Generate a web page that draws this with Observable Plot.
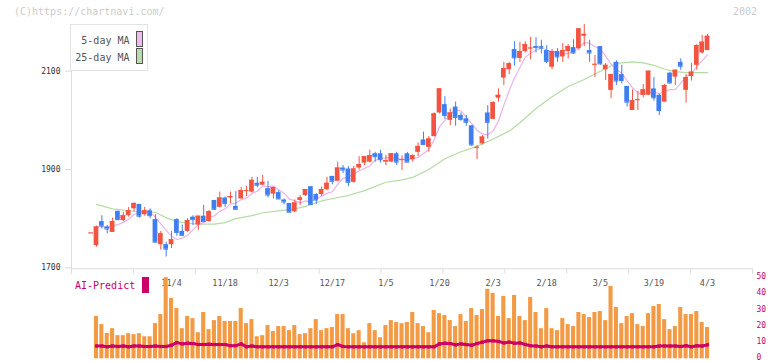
<!DOCTYPE html>
<html><head><meta charset="utf-8">
<script src="https://cdn.jsdelivr.net/npm/d3@7"></script>
<script src="https://cdn.jsdelivr.net/npm/@observablehq/plot@0.6"></script>
<style>
body{margin:0;background:#fff}
#wrap{position:relative;width:772px;height:361px;overflow:hidden;background:#fff;font-family:"DejaVu Sans Mono",monospace}
#wrap svg{position:absolute;left:0;top:0}
.t{position:absolute;white-space:nowrap;font-size:10px;line-height:10px}
</style></head>
<body><div id="wrap"></div>
<script>
// ---- data ----
const candleOpen = [1745,1794,1783,1772,1815,1796,1806,1820,1829,1808,
1816,1798,1747,1747,1747,1798,1774,1774,1803,1787,
1805,1794,1837,1823,1842,1842,1825,1840,1856,1854,
1872,1868,1861,1850,1853,1838,1831,1814,1837,1847,
1865,1849,1849,1859,1886,1876,1903,1901,1874,1903,
1913,1915,1932,1932,1915,1915,1932,1919,1932,1920,
1935,1960,1945,1967,2015,2032,2000,2027,2010,2003,
1989,1944,1952,2015,2002,2045,2086,2103,2144,2126,
2140,2146,2150,2150,2142,2108,2140,2129,2140,2148,
2146,2171,2142,2113,2150,2103,2061,2118,2093,2069,
2020,2041,2051,2051,2064,2051,2037,2096,2088,2118,
2061,2089,2112,2137,2142];
const candleHigh = [1785,1806,1786,1801,1815,1813,1823,1832,1829,1823,
1820,1808,1774,1752,1774,1800,1787,1800,1806,1805,
1827,1817,1837,1854,1844,1854,1855,1864,1866,1884,
1884,1888,1876,1864,1857,1840,1831,1838,1847,1859,
1865,1851,1864,1884,1886,1915,1908,1906,1906,1926,
1926,1939,1935,1939,1929,1932,1935,1928,1935,1930,
1954,1976,1967,2015,2064,2048,2023,2037,2015,2010,
1989,1949,1969,2030,2038,2064,2118,2118,2160,2159,
2160,2169,2168,2163,2152,2144,2146,2156,2154,2164,
2186,2195,2163,2132,2150,2116,2093,2121,2112,2069,
2062,2059,2073,2100,2087,2053,2073,2098,2102,2125,
2093,2116,2154,2173,2175];
const candleLow = [1742,1779,1769,1772,1796,1794,1803,1814,1801,1805,
1800,1752,1736,1722,1739,1764,1764,1772,1786,1776,
1794,1793,1817,1822,1823,1831,1819,1840,1845,1852,
1863,1868,1842,1840,1839,1828,1813,1812,1827,1845,
1827,1829,1845,1857,1869,1876,1892,1865,1872,1899,
1908,1913,1915,1913,1908,1915,1908,1898,1915,1915,
1926,1949,1935,1966,2013,2002,1989,1988,1998,1988,
1947,1920,1950,1962,2002,2037,2071,2093,2110,2118,
2137,2123,2137,2135,2115,2103,2118,2118,2125,2134,
2142,2150,2118,2087,2112,2081,2044,2071,2074,2027,
2020,2020,2046,2051,2039,2010,2037,2074,2071,2102,
2035,2080,2102,2135,2142];
const candleClose = [1783,1785,1779,1794,1798,1806,1816,1831,1805,1816,
1806,1752,1769,1738,1757,1772,1766,1796,1798,1805,
1794,1814,1819,1842,1831,1845,1819,1857,1857,1878,
1868,1874,1848,1863,1840,1834,1813,1832,1842,1859,
1829,1838,1859,1872,1876,1903,1899,1874,1901,1910,
1926,1928,1926,1920,1918,1932,1915,1920,1915,1928,
1947,1951,1962,2013,2064,2010,2015,2006,2002,1996,
1950,1945,1966,1996,2036,2051,2105,2115,2127,2140,
2154,2147,2148,2147,2120,2140,2129,2142,2150,2137,
2186,2175,2137,2114,2115,2112,2093,2080,2081,2037,
2040,2042,2062,2100,2046,2020,2071,2076,2102,2110,
2087,2098,2152,2159,2171];
// partly visible doji just left of the first candle
const leadIdx = [-1];
const leadClose = [1771];

// 25-day moving average at these candle indices
const ma25Idx = [0,3,7,11,13,15,17,19,22,24,26,29,31,34,37,39,42,45,47,50,54,57,59,62,65,68,71,74,77,79,82,85,88,91,94,97,100,102,104,106,108,110,114];
const ma25Val = [1829,1820,1815,1813,1802,1794,1791,1789,1789,1792,1800,1806,1812,1816,1820,1825,1836,1843,1847,1857,1874,1879,1884,1900,1922,1936,1947,1962,1978,1995,2024,2048,2069,2083,2100,2116,2119,2117,2112,2104,2099,2097,2097];

// lower panel
const volume = [26.1,21.1,15.7,18.6,14.3,14.3,15.5,14.9,15.5,13.6,
13.6,21.7,27.3,50.1,37.3,31.0,18.6,26.1,24.8,16.1,
28.6,18.0,23.6,26.1,23.0,23.0,23.0,31.0,21.7,24.2,
13.6,14.3,20.5,16.8,19.9,19.9,17.4,20.5,14.9,15.5,
18.6,24.2,17.4,18.6,19.3,27.3,27.3,18.6,15.5,17.4,
9.9,21.7,17.4,13.0,20.5,23.6,22.4,21.7,22.4,28.6,
21.7,19.9,16.1,29.8,27.9,26.7,23.6,19.9,27.3,23.0,
31.0,26.7,30.4,42.9,40.4,26.1,38.5,24.8,39.1,26.1,
23.6,37.9,28.6,18.6,31.0,18.6,17.4,24.8,21.1,19.9,
28.6,27.3,25.5,28.6,29.2,23.6,44.7,31.7,21.7,26.1,
27.9,21.1,19.9,27.9,32.3,33.5,24.2,18.0,19.9,31.7,
27.3,27.3,29.2,22.4,19.3];
const aiPredict = [7.9,7.9,7.4,7.9,7.6,7.9,7.4,7.9,7.9,7.6,
7.6,7.9,7.6,7.6,8.4,10.0,9.2,9.6,9.4,8.8,
8.8,9.0,8.8,8.8,8.8,8.1,8.1,9.2,7.4,7.9,
7.4,7.4,7.4,7.4,7.4,7.4,7.4,7.4,7.4,7.4,
7.4,7.4,7.4,7.4,7.4,8.8,7.6,7.4,7.4,7.4,
7.4,7.4,7.4,7.4,7.4,7.4,7.4,7.4,7.4,7.4,
7.4,7.4,7.4,7.4,9.2,9.6,9.4,8.6,9.2,8.8,
8.4,9.4,10.3,11.1,11.1,10.7,9.8,10.3,9.6,9.8,
8.8,8.1,7.9,7.4,7.9,7.4,7.4,7.4,7.4,7.4,
7.4,7.4,7.4,7.4,7.4,7.4,7.4,7.4,7.4,7.4,
7.4,7.4,7.4,7.4,7.4,7.9,7.9,7.9,7.9,7.6,
8.1,7.4,8.1,7.9,8.6];

const xLabelIdx = [14,24,34,44,54,64,74,84,94,104,114];
const xLabels = ["11/4","11/18","12/3","12/17","1/5","1/20","2/3","2/18","3/5","3/19","4/3"];
const priceTicks = [1700,1900,2100];
const volTicks = [0,10,20,30,40,50];

// ---- styles ----
const UP = "#f25441", DOWN = "#3f7ef0";
const xDomain = [-4.664, 122.39], xRange = [71, 752];

const candles = candleOpen.map((o, i) => ({
  i, open: o, high: candleHigh[i], low: candleLow[i], close: candleClose[i],
  col: candleClose[i] >= o ? UP : DOWN
}));
const lead = leadIdx.map((i, k) => ({i, close: leadClose[k], col: UP}));
const ma25 = ma25Idx.map((i, k) => ({i, v: ma25Val[k]}));
const vol = volume.map((v, i) => ({i, v}));
const ai = aiPredict.map((v, i) => ({i, v}));
const labelMap = new Map(xLabelIdx.map((d, k) => [d, xLabels[k]]));
const gridTicks = d3.range(12).map(k => xDomain[0] + k * (xDomain[1] - xDomain[0]) / 11);
const half = 0.44;

const main = Plot.plot({
  width: 772, height: 361,
  marginLeft: 71, marginRight: 20, marginTop: 24, marginBottom: 93,
  x: {type: "linear", domain: xDomain, range: xRange, label: null, axis: null},
  y: {domain: [1700, 2100], range: [267.3, 70.7], label: null, axis: null},
  color: {type: "identity"},
  style: {background: "transparent", fontFamily: "DejaVu Sans Mono", overflow: "visible"},
  marks: [
    Plot.ruleX([xDomain[0]], {stroke: "#dddddd"}),
    Plot.ruleY([1700], {stroke: "#dddddd", dy: 1}),
    Plot.axisX({ticks: gridTicks, tickSize: 6, tickFormat: () => "", stroke: "#dddddd", anchor: "bottom"}),
    Plot.axisY({ticks: priceTicks, anchor: "left", tickSize: 6, tickPadding: 5, fontSize: 8, fill: "#333", stroke: "#dddddd", tickFormat: d => String(d)}),
    Plot.axisX({ticks: xLabelIdx, tickFormat: d => labelMap.get(d) ?? "", tickSize: 0, tickPadding: 11, fontSize: 8.5, fill: "#555", anchor: "bottom"}),
    Plot.line(ma25, {x: "i", y: "v", stroke: "#b5dba5", strokeWidth: 1.2}),
    Plot.line(candles, Plot.windowY({k: 5, anchor: "end"}, {x: "i", y: "close", stroke: "#e9b3ea", strokeWidth: 1.2})),
    Plot.ruleX(candles, {x: "i", y1: "low", y2: "high", stroke: "col", strokeWidth: 1}),
    Plot.rect(candles, {x1: d => d.i - half, x2: d => d.i + half, y1: "open", y2: "close", fill: "col"}),
    Plot.ruleY(candles, {x1: d => d.i - half, x2: d => d.i + half, y: "close", stroke: "col", strokeWidth: 1}),
    Plot.ruleY(lead, {x1: d => d.i - half, x2: d => d.i + half, y: "close", stroke: "col", strokeWidth: 1.2})
  ]
});

const lower = Plot.plot({
  width: 772, height: 361,
  marginLeft: 71, marginRight: 20, marginTop: 277, marginBottom: 3,
  x: {type: "linear", domain: xDomain, range: xRange, label: null, axis: null},
  y: {domain: [0, 50], range: [358.3, 277.3], label: null, axis: null},
  style: {background: "transparent", fontFamily: "DejaVu Sans Mono", overflow: "visible"},
  marks: [
    Plot.rectY(vol, {x1: d => d.i - 0.38, x2: d => d.i + 0.38, y: "v", fill: "#f39a45"}),
    Plot.line(ai, {x: "i", y: "v", stroke: "#cc0066", strokeWidth: 3}),
    Plot.dot(ai, {x: "i", y: "v", symbol: "square", r: 1.8, fill: "#cc0066"}),
    Plot.axisY({ticks: volTicks, anchor: "right", tickSize: 0, tickPadding: 4, fontSize: 8, dy: -1.2, fill: "#cc0066", tickFormat: d => String(d)})
  ]
});

const wrap = document.getElementById("wrap");
wrap.appendChild(main);
wrap.appendChild(lower);

function addText(txt, css) {
  const d = document.createElement("div");
  d.className = "t";
  d.textContent = txt;
  Object.assign(d.style, css);
  wrap.appendChild(d);
  return d;
}
addText("(C)https://chartnavi.com/", {left: "14px", top: "7px", color: "#cccccc"});
addText("2002", {left: "733px", top: "7px", color: "#cccccc"});

// legend
const box = document.createElement("div");
Object.assign(box.style, {position: "absolute", left: "70px", top: "24px", width: "78px", height: "47px",
  boxSizing: "border-box", border: "1px solid #e2e2e2", background: "#fff"});
wrap.appendChild(box);
addText("5-day MA", {right: (772 - 129.5) + "px", top: "36px", color: "#555"});
addText("25-day MA", {right: (772 - 129.5) + "px", top: "52.5px", color: "#555"});
function swatch(left, top, w, h, fill, border) {
  const s = document.createElement("div");
  Object.assign(s.style, {position: "absolute", left: left + "px", top: top + "px", width: w + "px", height: h + "px",
    boxSizing: "border-box", background: fill, border: border});
  wrap.appendChild(s);
}
swatch(136, 31, 7, 16, "#efbbef", "1px solid #555");
swatch(136, 48, 7, 16, "#bcdeac", "1px solid #555");

addText("AI-Predict", {left: "75px", top: "281px", color: "#cc0066"});
swatch(142, 277, 7, 16, "#cc0066", "none");
</script>
</body></html>
